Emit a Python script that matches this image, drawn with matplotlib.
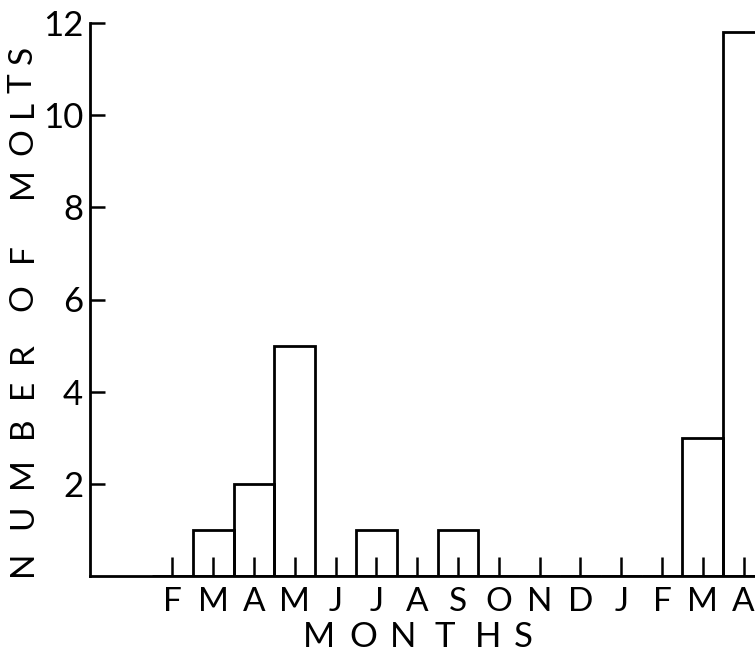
import matplotlib
matplotlib.use("Agg")
import matplotlib.pyplot as plt
import numpy as np

months = ['F', 'M', 'A', 'M', 'J', 'J', 'A', 'S', 'O', 'N', 'D', 'J', 'F', 'M', 'A']
molts = [0, 1, 2, 5, 0, 1, 0, 1, 0, 0, 0, 0, 0, 3, 11.8]
y_ticks = [2, 4, 6, 8, 10, 12]
y_title = 'NUMBEROFMOLTS'
x_title = 'MONTHS'

plt.rcParams['font.family'] = ['Lato', 'DejaVu Sans']

W, H = 755, 655
fig = plt.figure(figsize=(W / 100, H / 100), dpi=100)
ax = fig.add_axes([90 / W, 79 / H, 1 - 90 / W, 553 / H])

x = np.arange(len(months))
ax.bar(x, molts, width=1.0, fill=False, edgecolor='black', linewidth=2.0, zorder=1)

ax.set_xlim(-2.02, 14.28)
ax.set_ylim(0, 12)
ax.spines['top'].set_visible(False)
ax.spines['right'].set_visible(False)
for s in ['left', 'bottom']:
    ax.spines[s].set_linewidth(2.0)
    ax.spines[s].set_zorder(3)

ax.set_xticks(x)
ax.set_xticklabels(months, fontsize=24)
ax.set_yticks(y_ticks)
ax.set_yticklabels([str(v) for v in y_ticks], fontsize=25)
ax.tick_params(axis='x', direction='in', length=14, width=1.8, pad=8)
ax.tick_params(axis='y', direction='in', length=11, width=1.8, pad=5)

# letter-spaced axis titles (layout positions in pixels)
ytitle_pos = [563, 517, 473, 427, 388, 353, 298, 253, 183, 142, 108, 83, 55]
for ch, py in zip(y_title, ytitle_pos):
    fig.text(23 / W, 1 - py / H, ch, rotation=90, ha='center', va='center', fontsize=24)

xtitle_pos = [319, 363, 403, 445, 488, 523]
for ch, px in zip(x_title, xtitle_pos):
    fig.text(px / W, 1 - 637 / H, ch, ha='center', va='center', fontsize=25)

fig.savefig('out.png', dpi=100)
